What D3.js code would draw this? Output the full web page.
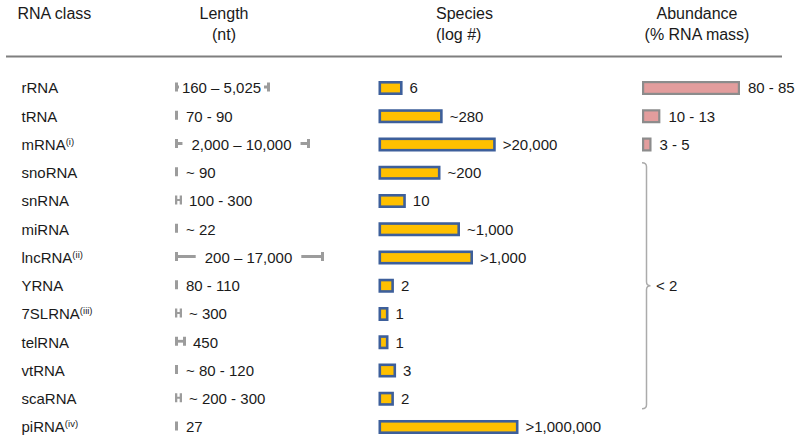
<!DOCTYPE html>
<html>
<head>
<meta charset="utf-8">
<script src="https://cdn.jsdelivr.net/npm/d3@7"></script>
<style>
  html, body { margin: 0; padding: 0; background: #fff; }
  svg { display: block; }
  text { font-family: "Liberation Sans", Arial, sans-serif; fill: #1a1a1a; }
</style>
</head>
<body>
<div id="chart"></div>
<script>
// ---------------- data ----------------
const rnaClasses   = ["rRNA","tRNA","mRNA","snoRNA","snRNA","miRNA","lncRNA","YRNA","7SLRNA","telRNA","vtRNA","scaRNA","piRNA"];
const classNotes   = ["","","(i)","","","","(ii)","","(iii)","","","","(iv)"];
const lengthLabels = ["160 – 5,025","70 - 90","2,000 – 10,000","~ 90","100 - 300","~ 22","200 – 17,000","80 - 110","~ 300","450","~ 80 - 120","~ 200 - 300","27"];
// visual span of the grey length range marker (relative units)
const lengthSpan   = [95, 0, 135, 0, 7, 0, 149, 0, 7, 11, 0, 7, 0];
const speciesLabels = ["6","~280",">20,000","~200","10","~1,000",">1,000","2","1","1","3","2",">1,000,000"];
// bar length on the log axis as drawn (log10 #)
const speciesLog   = [0.65, 2.5, 4.95, 2.4, 0.8, 3.3, 3.9, 0.25, 0, 0, 0.35, 0.25, 6.0];
const abundanceClasses = ["rRNA","tRNA","mRNA"];
const abundanceLabels  = ["80 - 85","10 - 13","3 - 5"];
const abundanceHigh    = [85, 13, 5];
const otherAbundanceClasses = ["snoRNA","snRNA","miRNA","lncRNA","YRNA","7SLRNA","telRNA","vtRNA","scaRNA"];
const otherAbundanceLabel   = "< 2";
const headerLines = [["RNA class"], ["Length","(nt)"], ["Species","(log #)"], ["Abundance","(% RNA mass)"]];

// ---------------- layout ----------------
const W = 800, H = 442;
const svg = d3.select("#chart").append("svg").attr("width", W).attr("height", H);

const y = d3.scalePoint().domain(rnaClasses).range([88, 427]);

const lenX0 = 175;
const lenScale = d3.scaleLinear().domain([0, 150]).range([0, 150]);
const spX0 = 378.5;
const spScale = d3.scaleLinear().domain([0, 6]).range([10, 140]);
const abX0 = 642;
const abScale = d3.scaleLinear().domain([0, 85]).range([4, 98]);

// ---------------- header ----------------
const headerPos = [
  {x: 17.5, anchor: "start"},
  {x: 224, anchor: "middle"},
  {x: 436, anchor: "start"},
  {x: 697, anchor: "middle"}
];
headerLines.forEach((lines, i) => {
  lines.forEach((t, j) => {
    svg.append("text")
      .attr("x", headerPos[i].x)
      .attr("y", 19 + j * 21)
      .attr("text-anchor", headerPos[i].anchor)
      .style("font-size", "16px")
      .text(t);
  });
});
svg.append("line")
  .attr("x1", 6).attr("x2", 782)
  .attr("y1", 56.5).attr("y2", 56.5)
  .attr("stroke", "#7f7f7f").attr("stroke-width", 2);

// ---------------- RNA class labels ----------------
const lab = svg.append("g").selectAll("text").data(rnaClasses).join("text")
  .attr("x", 21.5)
  .attr("y", d => y(d))
  .attr("dy", "0.35em")
  .style("font-size", "15px");
lab.append("tspan").text(d => d);
lab.append("tspan")
  .attr("dy", -5)
  .style("font-size", "9.5px")
  .text((d, i) => classNotes[i]);

// ---------------- length markers ----------------
const markerColor = "#9c9c9c";
const capH = 9;
const lenG = svg.append("g");
rnaClasses.forEach((c, i) => {
  const s = lenScale(lengthSpan[i]);
  const capW = s > 0 && s < 10 ? 2.3 : 3;
  const cy = y(c) - 1;
  const g = lenG.append("g");
  if (s < capW + 0.5) {
    g.append("rect").attr("x", lenX0).attr("y", cy - capH / 2)
      .attr("width", capW).attr("height", capH).attr("fill", markerColor);
    g.append("text").attr("x", lenX0 + capW + 8).attr("y", y(c)).attr("dy", "0.35em")
      .style("font-size", "15px").text(lengthLabels[i]);
  } else {
    g.append("line").attr("x1", lenX0).attr("x2", lenX0 + s)
      .attr("y1", cy).attr("y2", cy)
      .attr("stroke", markerColor).attr("stroke-width", s < 10 ? 2 : 2.8);
    g.append("rect").attr("x", lenX0).attr("y", cy - capH / 2)
      .attr("width", capW).attr("height", capH).attr("fill", markerColor);
    g.append("rect").attr("x", lenX0 + s - capW).attr("y", cy - capH / 2)
      .attr("width", capW).attr("height", capH).attr("fill", markerColor);
    if (s > 30) {
      const t = g.append("text").attr("x", lenX0 + s / 2 - 1).attr("y", y(c)).attr("dy", "0.35em")
        .attr("text-anchor", "middle").style("font-size", "15px").text(lengthLabels[i]);
      const bb = t.node().getBBox();
      const pad = Math.max(1, Math.min(9, (s - bb.width) / 2 - 5));
      g.insert("rect", "text")
        .attr("x", bb.x - pad).attr("y", cy - capH / 2 - 1)
        .attr("width", bb.width + 2 * pad).attr("height", capH + 2)
        .attr("fill", "#fff");
    } else {
      g.append("text").attr("x", lenX0 + s + 7).attr("y", y(c)).attr("dy", "0.35em")
        .style("font-size", "15px").text(lengthLabels[i]);
    }
  }
});

// ---------------- species bars ----------------
const spSW = 2.6, barH = 14;
const spG = svg.append("g");
spG.selectAll("rect").data(rnaClasses).join("rect")
  .attr("x", spX0 + spSW / 2)
  .attr("y", d => y(d) - barH / 2 + spSW / 2)
  .attr("width", (d, i) => spScale(speciesLog[i]) - spSW)
  .attr("height", barH - spSW)
  .attr("fill", "#ffc000")
  .attr("stroke", "#3d5f9b")
  .attr("stroke-width", spSW);
spG.selectAll("text").data(rnaClasses).join("text")
  .attr("x", (d, i) => spX0 + spScale(speciesLog[i]) + 7)
  .attr("y", d => y(d))
  .attr("dy", "0.35em")
  .style("font-size", "15px")
  .text((d, i) => speciesLabels[i]);

// ---------------- abundance bars ----------------
const abSW = 2.2;
const abG = svg.append("g");
abG.selectAll("rect").data(abundanceClasses).join("rect")
  .attr("x", abX0 + abSW / 2)
  .attr("y", d => y(d) - barH / 2 + abSW / 2)
  .attr("width", (d, i) => abScale(abundanceHigh[i]) - abSW)
  .attr("height", barH - abSW)
  .attr("fill", "#e39d9d")
  .attr("stroke", "#8c8c8c")
  .attr("stroke-width", abSW);
abG.selectAll("text").data(abundanceClasses).join("text")
  .attr("x", (d, i) => abX0 + abScale(abundanceHigh[i]) + 8)
  .attr("y", d => y(d))
  .attr("dy", "0.35em")
  .style("font-size", "15px")
  .text((d, i) => abundanceLabels[i]);

// brace for the remaining classes
const yTop = y(otherAbundanceClasses[0]) - 10;
const yBot = y(otherAbundanceClasses[otherAbundanceClasses.length - 1]) + 10;
const yMid = (yTop + yBot) / 2;
const bx = 642, bw = 4.5;
const bracePath = d3.path();
bracePath.moveTo(bx, yTop);
bracePath.quadraticCurveTo(bx + bw, yTop, bx + bw, yTop + 4);
bracePath.lineTo(bx + bw, yMid - 4);
bracePath.quadraticCurveTo(bx + bw, yMid, bx + bw + 4, yMid);
bracePath.quadraticCurveTo(bx + bw, yMid, bx + bw, yMid + 4);
bracePath.lineTo(bx + bw, yBot - 4);
bracePath.quadraticCurveTo(bx + bw, yBot, bx, yBot);
svg.append("path").attr("d", bracePath.toString())
  .attr("fill", "none").attr("stroke", "#ababab").attr("stroke-width", 1.5);
svg.append("text")
  .attr("x", 656).attr("y", yMid).attr("dy", "0.35em")
  .style("font-size", "15px")
  .text(otherAbundanceLabel);
</script>
</body>
</html>
